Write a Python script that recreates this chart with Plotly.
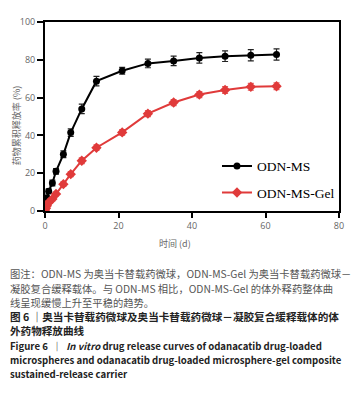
import plotly.graph_objects as go

time_d = [0, 0.25, 0.5, 1, 2, 3, 5, 7, 10, 14, 21, 28, 35, 42, 49, 56, 63]
ms_release = [2.2, 4.5, 7.0, 10.5, 14.8, 21.0, 30.0, 41.5, 54.0, 68.7, 74.2, 78.1, 79.4, 81.0, 81.9, 82.4, 82.8]
ms_err = [1.0, 1.0, 1.0, 1.2, 1.5, 1.5, 1.8, 2.0, 2.5, 2.5, 1.8, 2.3, 2.5, 2.8, 2.8, 3.0, 3.0]
gel_release = [0.5, 1.5, 2.8, 4.5, 6.3, 9.0, 14.2, 19.5, 26.6, 33.5, 41.6, 51.5, 57.4, 61.6, 64.0, 65.7, 66.0]
gel_err = [0.8, 0.8, 0.8, 1.0, 1.0, 1.0, 1.2, 1.3, 1.5, 1.5, 1.5, 1.6, 1.6, 1.6, 1.8, 1.8, 1.8]

x_ticks = [0, 20, 40, 60, 80]
y_ticks = [0, 20, 40, 60, 80, 100]

caption_lines = [
    ("图注：ODN-MS 为奥当卡替载药微球，ODN-MS-Gel 为奥当卡替载药微球－", False, "#555555", 10.3),
    ("凝胶复合缓释载体。与 ODN-MS 相比，ODN-MS-Gel 的体外释药整体曲", False, "#555555", 10.3),
    ("线呈现缓慢上升至平稳的趋势。", False, "#555555", 10.3),
    ("图 6 ｜奥当卡替载药微球及奥当卡替载药微球－凝胶复合缓释载体的体", True, "#222222", 10.6),
    ("外药物释放曲线", True, "#222222", 10.6),
    ("Figure 6  ｜  <i>In vitro</i> drug release curves of odanacatib drug-loaded", True, "#222222", 9.6),
    ("microspheres and odanacatib drug-loaded microsphere-gel composite", True, "#222222", 9.6),
    ("sustained-release carrier", True, "#222222", 9.6),
]
caption_y = [276, 291, 306, 320, 335, 351, 366, 380]

# page body has an 8px margin; work in screen pixels and subtract it
OFF = 8
W, H = 361 - OFF, 397 - OFF
L, T = 45 - OFF, 15 - OFF
R = W - (339 - OFF)
B = H - (211 - OFF)

fig = go.Figure()
fig.add_trace(go.Scatter(
    x=time_d, y=ms_release, name="ODN-MS", mode="lines+markers", legendgroup="a",
    line=dict(color="black", width=2),
    marker=dict(symbol="circle", size=7, color="black"),
    error_y=dict(type="data", array=ms_err, color="#222222", thickness=1.2, width=3),
))
fig.add_trace(go.Scatter(
    x=time_d, y=gel_release, name="ODN-MS-Gel", mode="lines+markers", legendgroup="b",
    line=dict(color="#e03a3a", width=2),
    marker=dict(symbol="diamond", size=8, color="#e03a3a"),
    error_y=dict(type="data", array=gel_err, color="#e86060", thickness=1.2, width=3),
))

fig.update_layout(
    width=W, height=H,
    margin=dict(l=L, r=R, t=T, b=B),
    paper_bgcolor="white", plot_bgcolor="white",
    showlegend=True,
    legend=dict(
        x=0.585, y=0.166, xanchor="left", yanchor="middle",
        font=dict(family="Liberation Serif", size=13.5, color="black"),
        bgcolor="rgba(0,0,0,0)", itemwidth=30, tracegroupgap=6,
        traceorder="grouped",
    ),
    xaxis=dict(
        range=[0, 80], tickvals=x_ticks, showgrid=False, zeroline=False,
        showline=True, linecolor="black", linewidth=2, mirror=True,
        ticks="outside", ticklen=5, tickwidth=2, tickcolor="black",
        tickfont=dict(family="Open Sans", size=9, color="#666666"),
    ),
    yaxis=dict(
        range=[0, 100], tickvals=y_ticks, showgrid=False, zeroline=False,
        showline=True, linecolor="black", linewidth=2, mirror=True,
        ticks="outside", ticklen=6, tickwidth=2, tickcolor="black",
        tickfont=dict(family="Open Sans", size=9, color="#666666"),
    ),
)

annotations = [
    dict(text="时间 (d)", x=175, y=245, xanchor="center",
         font=dict(family="Noto Sans CJK SC", size=9, color="#666666")),
    dict(text="药物累积释放率 (%)", x=16, y=123, textangle=-90, xanchor="center",
         font=dict(family="Noto Sans CJK SC", size=9, color="#666666")),
]
for (txt, bold, col, fs), yy in zip(caption_lines, caption_y):
    t = f"<b>{txt}</b>" if bold else txt
    annotations.append(dict(text=t, x=OFF, y=yy, xanchor="left",
                            font=dict(family="Noto Sans CJK SC", size=fs, color=col)))

# convert screen pixel positions to paper coordinates
pw = W - L - R
ph = H - T - B
for a in annotations:
    a["showarrow"] = False
    a["yanchor"] = "middle"
    a["xref"] = "paper"; a["yref"] = "paper"
    a["x"] = (a["x"] - OFF - L) / pw
    a["y"] = (H - (a["y"] - OFF) - B) / ph
fig.update_layout(annotations=annotations)

fig.write_html("out.html")
